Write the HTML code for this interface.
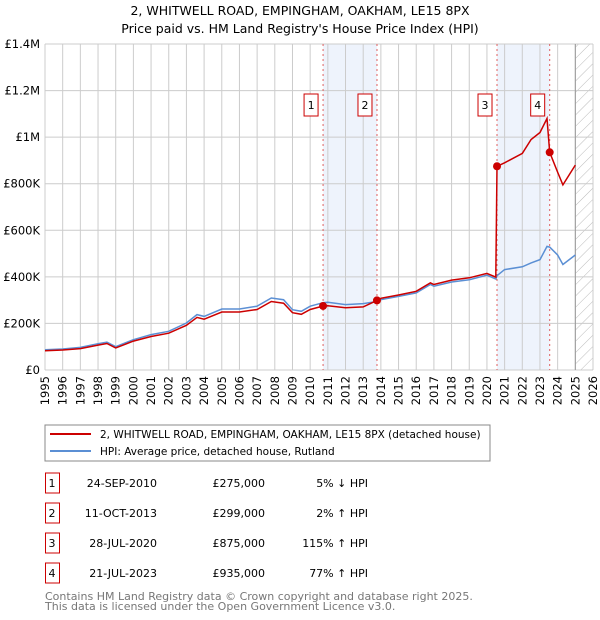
<!DOCTYPE html>
<html><head><meta charset="utf-8"><style>
body{margin:0;background:#fff;}
svg{display:block;font-family:"DejaVu Sans","Liberation Sans",sans-serif;}
</style></head><body>
<svg id="chart" width="600" height="620" viewBox="0 0 600 620" xmlns="http://www.w3.org/2000/svg">
<defs><pattern id="hatch" patternUnits="userSpaceOnUse" width="8" height="8" patternTransform="rotate(45)"><line x1="0" y1="0" x2="0" y2="8" stroke="#bbb" stroke-width="1"/></pattern></defs>
<text x="300" y="15" text-anchor="middle" font-size="12.5">2, WHITWELL ROAD, EMPINGHAM, OAKHAM, LE15 8PX</text>
<text x="300" y="33" text-anchor="middle" font-size="12.5">Price paid vs. HM Land Registry's House Price Index (HPI)</text>
<g id="plot"></g>
<g>
<rect x="45" y="425" width="445" height="36" fill="#fff" stroke="#888"/>
<line x1="50" y1="434" x2="91" y2="434" stroke="#cc0000" stroke-width="2"/>
<text x="100" y="438" font-size="10.5">2, WHITWELL ROAD, EMPINGHAM, OAKHAM, LE15 8PX (detached house)</text>
<line x1="50" y1="451" x2="91" y2="451" stroke="#5b8fd4" stroke-width="2"/>
<text x="100" y="455" font-size="10.5">HPI: Average price, detached house, Rutland</text>
</g>
<g id="table" font-size="11"></g>
<text x="45" y="600" font-size="11" fill="#777">Contains HM Land Registry data © Crown copyright and database right 2025.</text>
<text x="45" y="610" font-size="11" fill="#777">This data is licensed under the Open Government Licence v3.0.</text>
</svg>
<script>
const dates=[1995,1996,1997,1998,1998.5,1999,2000,2001,2002,2003,2003.6,2004,2005,2006,2007,2007.8,2008.5,2009,2009.5,2010,2010.73,2011,2012,2013,2013.78,2014,2015,2016,2016.8,2017,2018,2019,2020,2020.5,2020.57,2021,2022,2022.5,2023,2023.4,2023.55,2024,2024.3,2025];
const hpi=[87,90,97,113,120,100,130,152,166,202,238,230,262,262,274,309,302,259,252,274,289,291,281,285,294,302,316,331,367,360,378,388,407,391,405,431,443,460,474,531,528,494,453,494];
const paid=[83,86,92,107,114,95,124,144,158,192,226,218,249,249,260,294,287,246,239,260,275,276,267,271,299,308,322,338,374,367,386,396,415,399,875,890,930,990,1020,1080,935,850,795,880];
const saleDates=[2010.73,2013.78,2020.57,2023.55];
const salePrices=[275,299,875,935];
const saleLabels=["1","2","3","4"];
const saleDateText=["24-SEP-2010","11-OCT-2013","28-JUL-2020","21-JUL-2023"];
const salePriceText=["£275,000","£299,000","£875,000","£935,000"];
const saleHpiText=["5% ↓ HPI","2% ↑ HPI","115% ↑ HPI","77% ↑ HPI"];
const yTicks=[0,200,400,600,800,1000,1200,1400];
const yTickLabels=["£0","£200K","£400K","£600K","£800K","£1M","£1.2M","£1.4M"];
const xYears=[];for(let y=1995;y<=2026;y++)xYears.push(y);

const NS="http://www.w3.org/2000/svg";
const X0=45,X1=593,Y0=370,Y1=44;
const sx=v=>X0+(v-1995)*(X1-X0)/31;
const sy=v=>Y0-v*(Y0-Y1)/1400;
const plot=document.getElementById('plot');
function mk(tag,at,parent){const e=document.createElementNS(NS,tag);for(const k in at)e.setAttribute(k,at[k]);(parent||plot).appendChild(e);return e;}

let e;
e=mk('rect',{x:sx(saleDates[0]),y:Y1,width:sx(saleDates[1])-sx(saleDates[0]),height:Y0-Y1,fill:'#eef3fc'});


e=mk('rect',{x:sx(saleDates[2]),y:Y1,width:sx(saleDates[3])-sx(saleDates[2]),height:Y0-Y1,fill:'#eef3fc'});


e=mk('rect',{x:sx(2025),y:Y1,width:sx(2026)-sx(2025),height:Y0-Y1,fill:'url(#hatch)'});



xYears.forEach(y=>{
  e=mk('line',{x1:sx(y),x2:sx(y),y1:Y1,y2:Y0,stroke:'#ccc','stroke-width':1});
  
  
  const t=mk('text',{x:0,y:0,'font-size':11.5,'text-anchor':'end',transform:`translate(${sx(y)+4},376) rotate(-90)`});
  t.textContent=y;
  
  
});
yTicks.forEach((v,i)=>{
  e=mk('line',{x1:X0,x2:X1,y1:sy(v),y2:sy(v),stroke:'#ccc','stroke-width':1});
  
  
  const t=mk('text',{x:40,y:sy(v)+4,'font-size':11.5,'text-anchor':'end'});
  t.textContent=yTickLabels[i];
  
  
});
e=mk('line',{x1:sx(2025),x2:sx(2025),y1:Y1,y2:Y0,stroke:'#999','stroke-width':1});



saleDates.forEach((d,i)=>{
  e=mk('line',{x1:sx(d),x2:sx(d),y1:Y1,y2:Y0,stroke:'#e06060','stroke-width':1,'stroke-dasharray':'2,3'});
  
  
  e=mk('rect',{x:sx(d)-19,y:94,width:14,height:22,fill:'#fff',stroke:'#cc0000'});
  
  
  const t=mk('text',{x:sx(d)-12,y:109,'font-size':11,'text-anchor':'middle'});
  t.textContent=saleLabels[i];
  
  
});

const path=arr=>arr.map((v,i)=>(i?'L':'M')+sx(dates[i]).toFixed(1)+','+sy(v).toFixed(1)).join('');
e=mk('path',{d:path(hpi),fill:'none',stroke:'#5b8fd4','stroke-width':1.5});


e=mk('path',{d:path(paid),fill:'none',stroke:'#cc0000','stroke-width':1.5});


saleDates.forEach((d,i)=>{
  e=mk('circle',{cx:sx(d),cy:sy(salePrices[i]),r:4,fill:'#cc0000'});
  
  
});

const tb=document.getElementById('table');
saleLabels.forEach((l,i)=>{
  const cy=483+i*30;
  e=mk('rect',{x:45.5,y:cy-10,width:14,height:20,fill:'#fff',stroke:'#cc0000'},tb);
  
  
  const cells=[[52,l,'middle'],[127,saleDateText[i],'end'],[265,salePriceText[i],'end'],[368,saleHpiText[i],'end']];
  cells.forEach(([x,txt,an],j)=>{
    const t=mk('text',{x:j==1?157:x,y:cy+4,'text-anchor':j==1?'end':an},tb);
    t.textContent=txt;
    
    
  });
});
</script>
</body></html>
